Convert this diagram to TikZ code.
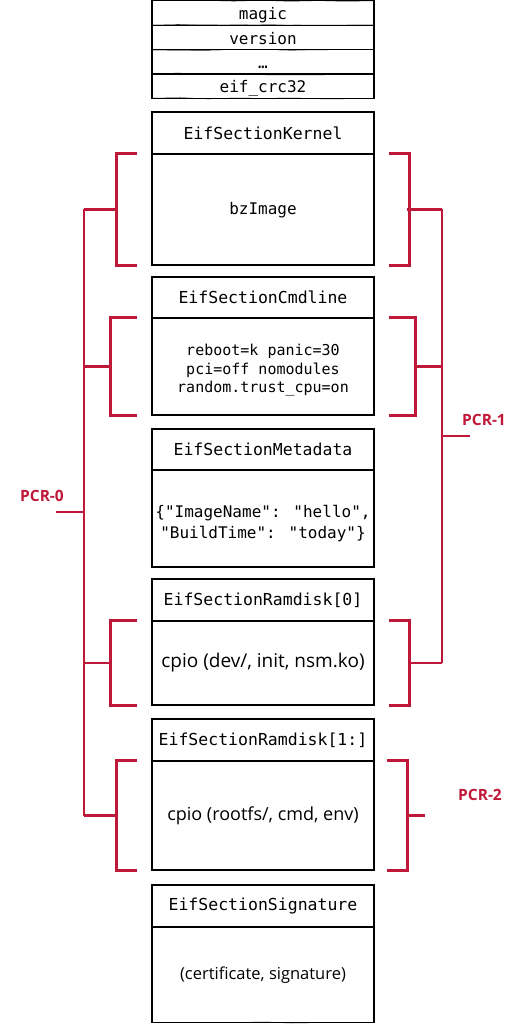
\documentclass[tikz,border=0pt]{standalone}
\usepackage{fontspec}
\setmainfont{Open Sans}
\newfontfamily\monofont{DejaVu Sans Mono}
\usetikzlibrary{decorations.pathmorphing}
\definecolor{pcrred}{RGB}{192,24,56}
\tikzset{
  secbox/.style={draw, line width=1.2pt, minimum width=222pt, inner sep=0pt, align=center,
    postaction={draw, line width=0.5pt, decorate, decoration={random steps, segment length=28pt, amplitude=0.6pt}}},
  sectitle/.style={secbox, font=\monofont\fontsize{16.5}{18}\selectfont},
  hdrrow/.style={secbox, minimum height=24.5pt, text height=14pt, text depth=0pt, font=\monofont\fontsize{16}{18}\selectfont},
  bodytext/.style={align=center, inner sep=0pt},
  pcr/.style={draw=pcrred, line width=2.6pt},
  pcrlabel/.style={text=pcrred, font=\fontsize{15.5}{18}\selectfont\bfseries}
}
\begin{document}
\begin{tikzpicture}[x=1pt, y=-1pt]
	\useasboundingbox (0,0) rectangle (525,1024);
	% header
	\node[hdrrow] (magic) at (263,13){magic};
	\node[hdrrow] (version) at (263,37.5){version};
	\node[hdrrow] (dots) at (263,62){\dots};
	\node[hdrrow] (crc) at (263,86){eif\_crc32};
	% kernel
	\node[sectitle, minimum height=42pt] (kernT) at (263,133){EifSectionKernel};
	\node[sectitle, minimum height=111pt] (kernB) at (263,209.5){};
	\node[bodytext, font=\monofont\fontsize{16}{18}\selectfont] (kernTx) at ([yshift=-1pt]kernB.center){bzImage};
	% cmdline
	\node[sectitle, minimum height=41pt] (cmdT) at (263,297.5){EifSectionCmdline};
	\node[secbox, minimum height=97pt] (cmdB) at (263,366.5){};
	\node[bodytext, font=\monofont\fontsize{15}{18.5}\selectfont] (cmdTx) at ([yshift=-4pt]cmdB.center){reboot=k panic=30\\pci=off nomodules\\random.trust\_cpu=on};
	% metadata
	\node[sectitle, minimum height=41pt] (metaT) at (263,449.5){EifSectionMetadata};
	\node[secbox, minimum height=97pt] (metaB) at (263,518.5){};
	\node[bodytext, font=\monofont\fontsize{16}{21}\selectfont] (metaTx) at ([yshift=-5pt]metaB.center){\{"ImageName": "hello",\\"BuildTime": "today"\}};
	% ramdisk 0
	\node[sectitle, minimum height=42pt] (rd0T) at (263,600){EifSectionRamdisk[0]};
	\node[secbox, minimum height=84pt, font=\fontsize{19}{20}\selectfont] (rd0B) at (263,663){cpio (dev/, init, nsm.ko)};
	% ramdisk 1..
	\node[sectitle, minimum height=42pt] (rd1T) at (263,740){EifSectionRamdisk[1:]};
	\node[secbox, minimum height=109pt, font=\fontsize{18}{20}\selectfont] (rd1B) at (263,815.5){cpio (rootfs/, cmd, env)};
	% signature
	\node[sectitle, minimum height=42pt] (sigT) at (263,906){EifSectionSignature};
	\node[secbox, minimum height=95pt, font=\fontsize{16.5}{20}\selectfont] (sigB) at (263,975){(certificate, signature)};
	% brackets left
	\draw[pcr] ([xshift=-14pt]kernB.north west) -- ++(-21,0) |- ([xshift=-14pt]kernB.south west);
	\draw[pcr] ([xshift=-14pt]cmdB.north west) -- ++(-27,0) |- ([xshift=-14pt]cmdB.south west);
	\draw[pcr] ([xshift=-14pt]rd0B.north west) -- ++(-27,0) |- ([xshift=-14pt]rd0B.south west);
	\draw[pcr] ([xshift=-14pt]rd1B.north west) -- ++(-21,0) |- ([xshift=-14pt]rd1B.south west);
	% brackets right
	\draw[pcr] ([xshift=14pt]kernB.north east) -- ++(21,0) |- ([xshift=14pt]kernB.south east);
	\draw[pcr] ([xshift=14pt]cmdB.north east) -- ++(27,0) |- ([xshift=14pt]cmdB.south east);
	\draw[pcr] ([xshift=14pt]rd0B.north east) -- ++(21,0) |- ([xshift=14pt]rd0B.south east);
	\draw[pcr] ([xshift=12pt]rd1B.north east) -- ++(21,0) |- ([xshift=12pt]rd1B.south east);
	% PCR-0
	\coordinate (p0top) at (84,209.5);
	\coordinate (p0bot) at (84,815.5);
	\coordinate (p0tick) at (56,512);
	\draw[pcr] (p0top) -- (117,209.5);
	\draw[pcr] (84,366.5) -- (111,366.5);
	\draw[pcr] (84,663) -- (111,663);
	\draw[pcr] (p0bot) -- (117,815.5);
	\draw[pcr] (p0top) -- (p0bot);
	\draw[pcr] (p0tick) -- (p0tick -| p0top);
	\node[pcrlabel, anchor=south] (pcr0) at (42,505){PCR-0};
	% PCR-1
	\coordinate (p1top) at (442,209.5);
	\coordinate (p1bot) at (442,663);
	\coordinate (p1tick) at (470,436);
	\draw[pcr] (p1top) -- (407,209.5);
	\draw[pcr] (442,366.5) -- (415,366.5);
	\draw[pcr] (p1bot) -- (408,663);
	\draw[pcr] (p1top) -- (p1bot);
	\draw[pcr] (p1tick) -- (p1tick -| p1top);
	\node[pcrlabel, anchor=south] (pcr1) at (484,429){PCR-1};
	% PCR-2
	\coordinate (p2tick) at (425,815.5);
	\draw[pcr] (p2tick) -- (406,815.5);
	\node[pcrlabel] (pcr2) at (480,795){PCR-2};
\end{tikzpicture}
\end{document}
